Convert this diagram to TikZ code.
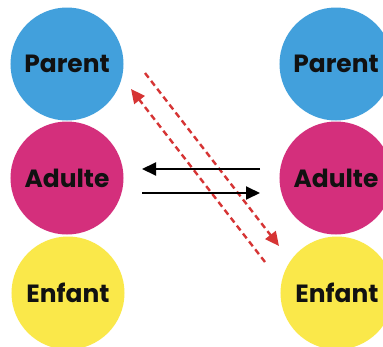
\documentclass[tikz,border=0pt]{standalone}
\usepackage{fontspec}
\setmainfont{Poppins}
\usetikzlibrary{arrows.meta}
\definecolor{cblue}{RGB}{66,160,220}
\definecolor{cmag}{RGB}{212,47,124}
\definecolor{cyel}{RGB}{250,232,74}
\definecolor{cred}{RGB}{214,52,52}
\definecolor{ctext}{RGB}{17,17,17}
\begin{document}
\begin{tikzpicture}[x=1bp,y=-1bp,
  ego/.style={circle,minimum size=113bp,inner sep=0pt,text=ctext,
    font=\fontsize{25}{30}\selectfont\bfseries},
  blackarrow/.style={line width=2bp,black,-{Triangle[length=14bp,width=13bp]}},
  redarrow/.style={line width=2.4bp,cred,dash pattern=on 6bp off 4bp,-{Triangle[length=14bp,width=13bp]}}]
\useasboundingbox (0,0) rectangle (383,347);
\clip (0,0) rectangle (383,347);
\fill[white] (0,0) rectangle (383,347);
% left column
\node[ego,fill=cblue] (pl) at (67,64) {Parent};
\node[ego,fill=cmag] (al) at (67,178) {Adulte};
\node[ego,fill=cyel] (el) at (68,293) {Enfant};
% right column
\node[ego,fill=cblue] (pr) at (336,64) {Parent};
\node[ego,fill=cmag] (ar) at (336,178) {Adulte};
\node[ego,fill=cyel] (er) at (337,293) {Enfant};
% red dashed transactions
\coordinate (r1s) at (265,262);
\coordinate (r1e) at (131,89);
\coordinate (r2s) at (145,73);
\coordinate (r2e) at (279,246);
\draw[redarrow] (r1s) -- (r1e);
\draw[redarrow] (r2s) -- (r2e);
% black complementary transactions
\coordinate (b1s) at (260,169);
\coordinate (b1e) at (142,169);
\coordinate (b2s) at (142,193);
\coordinate (b2e) at (260,193);
\draw[blackarrow] (b1s) -- (b1e);
\draw[blackarrow] (b2s) -- (b2e);
\end{tikzpicture}
\end{document}
